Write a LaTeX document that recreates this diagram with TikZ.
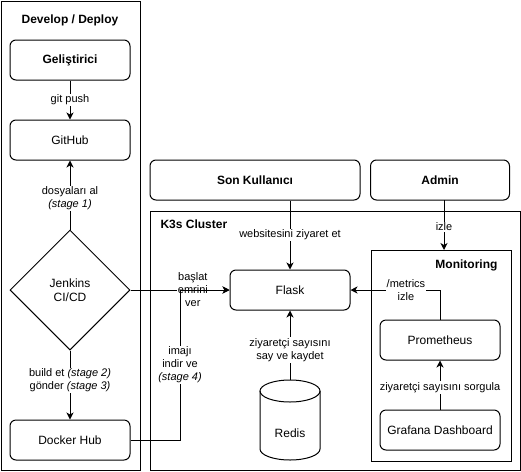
\documentclass[tikz,border=0pt]{standalone}
\usepackage{fontspec}
\setmainfont{Liberation Sans}
\usetikzlibrary{arrows.meta,shapes.geometric}

\begin{document}
\begin{tikzpicture}[x=1pt,y=-1pt,
  every node/.style={font=\fontsize{12}{14}\selectfont},
  box/.style={draw, rounded corners=6pt, minimum width=120pt, minimum height=40pt, inner sep=0pt, line width=1pt},
  boldbox/.style={box, font=\bfseries\fontsize{12}{14}\selectfont},
  frame/.style={draw, line width=1pt, anchor=north west, inner sep=0pt},
  lbl/.style={fill=white, font=\fontsize{11}{13}\selectfont, inner sep=1pt, align=center},
  arr/.style={-{Stealth[length=7pt,width=7pt,inset=2pt]}, line width=1pt},
  ln/.style={line width=1pt},
  title/.style={font=\bfseries\fontsize{12}{14}\selectfont}
]
\useasboundingbox (0,0) rectangle (521,471);

% containers
\node[frame, minimum width=139.5pt, minimum height=469.5pt] (devframe) at (0.5,0.5) {};
\node[frame, minimum width=370pt, minimum height=259pt] (k3s) at (150,211) {};
\node[frame, minimum width=140pt, minimum height=211pt] (mon) at (371,250) {};

\node[title] (devtitle) at (70,20) {Develop / Deploy};
\node[title, anchor=west] (k3stitle) at (157,224) {K3s Cluster};
\node[title, anchor=east] (montitle) at (501,265) {Monitoring};

% nodes
\node[boldbox] (dev) at (70,60) {Geliştirici};
\node[box] (github) at (70,140) {GitHub};
\node[draw, diamond, minimum width=120pt, minimum height=120pt, inner sep=0pt, align=center, line width=1pt] (jenkins) at (70,290) {Jenkins\\CI/CD};
\node[box] (docker) at (70,440) {Docker Hub};

\node[boldbox, minimum width=210pt] (son) at (255,180) {Son Kullanıcı};
\node[boldbox, minimum width=139pt] (admin) at (440,180) {Admin};

\node[box] (flask) at (290,290) {Flask};
\node[box] (prom) at (440,340) {Prometheus};
\node[box] (grafana) at (440,430) {Grafana Dashboard};

% Redis cylinder
\node[minimum width=60pt, minimum height=80pt, inner sep=0pt] (redis) at (290,420) {};
\draw[ln] (260,391) -- (260,449) arc[start angle=180, end angle=360, x radius=30pt, y radius=11pt] -- (320,391);
\draw[ln] (290,391) ellipse [x radius=30pt, y radius=11pt];
\node (redistxt) at (290,433) {Redis};

% connectors
\draw[arr] (dev) -- node[lbl] {git push} (github);
\draw[arr] (jenkins.north) -- node[lbl, pos=0.45] {dosyaları al\\\textit{(stage 1)}} (github);
\draw[arr] (jenkins.south) -- node[lbl, pos=0.43] {build et \textit{(stage 2)}\\gönder \textit{(stage 3)}} (docker);
\draw[arr] (jenkins.east) -- node[lbl, pos=0.63] {başlat\\emrini\\ver} (flask.west);
\coordinate (join) at (180,290);
\draw[arr] (docker.east) -| node[lbl, pos=0.75] {imajı\\indir ve\\\textit{(stage 4)}} (join) -- (flask.west);

\draw[arr] (son.south -| flask.north) -- node[lbl] {websitesini ziyaret et} (flask.north);
\draw[arr] (444,200) coordinate (adm) -- node[lbl, pos=0.54] {izle} (adm |- mon.north);
\draw[arr] (redis.north) -- node[lbl, pos=0.43] {ziyaretçi sayısını\\say ve kaydet} (flask.south);
\draw[arr] (grafana.north) -- node[lbl, pos=0.45] {ziyaretçi sayısını sorgula} (prom.south);
\draw[arr] (prom.north) |- node[lbl, pos=0.69] {/metrics\\izle} (flask.east);
\end{tikzpicture}
\end{document}
